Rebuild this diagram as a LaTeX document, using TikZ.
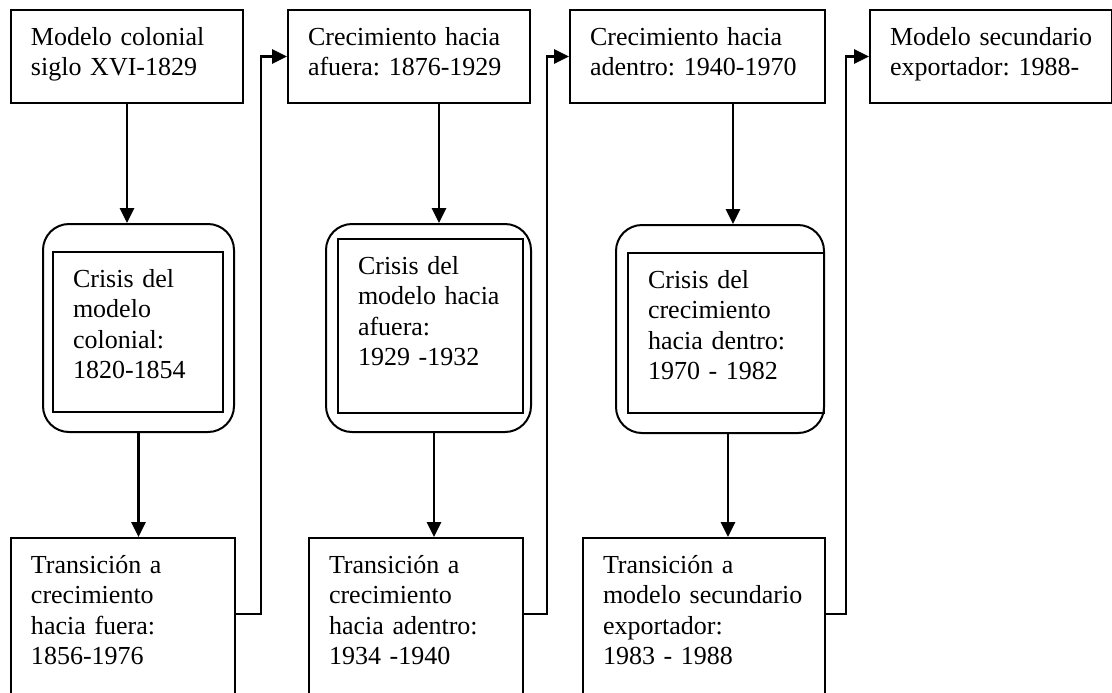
\documentclass[tikz,border=0pt]{standalone}
\usepackage{fontspec}
\setmainfont{Liberation Serif}
\usetikzlibrary{arrows.meta}
\newcommand{\letracaja}{\fontsize{13pt}{15.3pt}\selectfont\frenchspacing\hyphenpenalty 10000\relax}

\begin{document}
\begin{tikzpicture}
[x=0.5pt,y=-0.5pt,line width=1pt,
 caja/.style={draw,rectangle,anchor=north west,align=left,inner xsep=10pt,inner ysep=8.5pt,
   text height=9pt,font=\letracaja},
 marco/.style={draw,rectangle,rounded corners=13pt,anchor=north west,inner sep=0pt},
 flecha/.style={line width=1.4pt,-{Triangle[length=7.5pt,width=7pt]}}]

\clip (0,0) rectangle (1112,692);
\fill[white] (0,0) rectangle (1112,692);

% top row
\node[caja,text width=96pt,text depth=20.5pt] (mod1) at (10,9) {Modelo colonial\\siglo XVI-1829};
\node[caja,text width=101pt,text depth=20.5pt] (mod2) at (287,9) {Crecimiento hacia\\afuera: 1876-1929};
\node[caja,text width=107.5pt,text depth=20.5pt] (mod3) at (569,9) {Crecimiento hacia\\adentro: 1940-1970};
\node[caja,text width=101pt,text depth=20.5pt] (mod4) at (869,9) {\mbox{Modelo secundario}\\exportador: 1988-};

% crisis
\node[marco,minimum width=95.5pt,minimum height=104pt] (cri1) at (42,223) {};
\node[caja,text width=65pt,text depth=54pt] (cri1t) at (52,251) {Crisis del\\modelo\\colonial:\\1820-1854};
\node[marco,minimum width=102.5pt,minimum height=104pt] (cri2) at (325,223) {};
\node[caja,text width=72.5pt,text depth=61pt] (cri2t) at (337,238) {Crisis del\\modelo hacia\\afuera:\\1929 -1932};
\node[marco,minimum width=104pt,minimum height=104pt] (cri3) at (615,224) {};
\node[caja,text width=78pt,text depth=54pt] (cri3t) at (627,252) {Crisis del\\crecimiento\\hacia dentro:\\1970 - 1982};

% transiciones
\node[caja,text width=92pt,text depth=150pt] (tra1) at (10,537) {Transición a\\crecimiento\\hacia fuera:\\1856-1976};
\node[caja,text width=87pt,text depth=150pt] (tra2) at (308,537) {Transición a\\crecimiento\\hacia adentro:\\1934 -1940};
\node[caja,text width=101pt,text depth=150pt] (tra3) at (582,537) {Transición a\\\mbox{modelo secundario}\\exportador:\\1983 - 1988};

\coordinate (k1) at (261,614);
\coordinate (k2) at (547,614);
\coordinate (k3) at (846,614);

\draw[flecha] (mod1.south) -- (mod1.south |- cri1.north);
\draw[flecha] (cri1.south) -- (cri1.south |- tra1.north);
\draw[flecha] (k1 -| tra1.east) -- (k1) |- (mod2.west);

\draw[flecha] ([xshift=15pt]mod2.south) -- ([xshift=15pt]mod2.south |- cri2.north);
\draw[flecha] ([xshift=2.75pt]cri2.south) -- ([xshift=2.75pt]cri2.south |- tra2.north);
\draw[flecha] (k2 -| tra2.east) -- (k2) |- (mod3.west);

\draw[flecha] ([xshift=17.75pt]mod3.south) -- ([xshift=17.75pt]mod3.south |- cri3.north);
\draw[flecha] ([xshift=4pt]cri3.south) -- ([xshift=4pt]cri3.south |- tra3.north);
\draw[flecha] (k3 -| tra3.east) -- (k3) |- (mod4.west);

\end{tikzpicture}
\end{document}
